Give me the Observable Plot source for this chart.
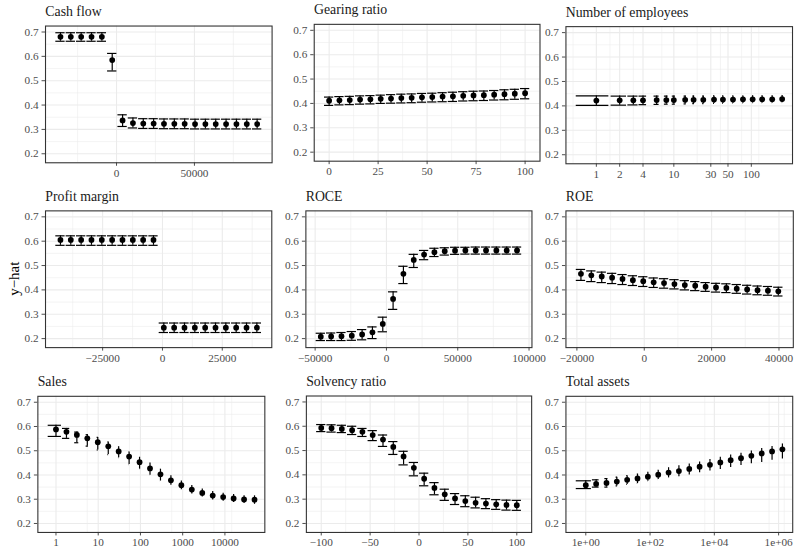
<!DOCTYPE html>
<html><head><meta charset="utf-8">
<script src="https://cdn.jsdelivr.net/npm/d3@7"></script>
<script src="https://cdn.jsdelivr.net/npm/@observablehq/plot@0.6"></script>
<style>
html,body{margin:0;padding:0;background:#fff;overflow:hidden;}
#chart{position:relative;width:795px;height:557px;overflow:hidden;background:#fff;}
#chart svg{position:absolute;left:0;top:0;}
#chart svg text{font-family:'Liberation Serif','Times New Roman',serif !important;}
</style></head><body><div id="chart"></div>
<script>
// ---------- data ----------
const titles = ["Cash flow","Gearing ratio","Number of employees","Profit margin","ROCE","ROE","Sales","Solvency ratio","Total assets"];
const yAxisTitle = "y\u2212hat";
const yTicks = [0.2,0.3,0.4,0.5,0.6,0.7];

const cashX  = [-35970,-29330,-22690,-16040,-9400,-2760,3890,10530,17170,23820,30460,37100,43740,50390,57030,63670,70310,76960,83600,90240];
const cashY  = [0.680,0.680,0.680,0.680,0.680,0.585,0.337,0.326,0.324,0.324,0.323,0.323,0.323,0.322,0.322,0.322,0.322,0.322,0.322,0.322];
const cashLo = [0.662,0.662,0.662,0.662,0.662,0.540,0.312,0.306,0.304,0.304,0.303,0.303,0.303,0.302,0.302,0.302,0.302,0.302,0.302,0.302];
const cashHi = [0.697,0.697,0.697,0.697,0.697,0.612,0.360,0.347,0.344,0.344,0.343,0.343,0.343,0.342,0.342,0.342,0.342,0.342,0.342,0.342];
const cashTicks = [0,50000];

const gearX  = [0,5.26,10.53,15.79,21.05,26.32,31.58,36.84,42.11,47.37,52.63,57.89,63.16,68.42,73.68,78.95,84.21,89.47,94.74,100];
const gearY  = [0.411,0.413,0.414,0.416,0.417,0.419,0.420,0.422,0.423,0.425,0.426,0.428,0.429,0.431,0.433,0.434,0.436,0.438,0.440,0.442];
const gearLo = [0.392,0.394,0.395,0.397,0.398,0.400,0.401,0.402,0.403,0.405,0.406,0.407,0.408,0.410,0.411,0.412,0.414,0.415,0.417,0.419];
const gearHi = [0.426,0.428,0.429,0.431,0.432,0.434,0.436,0.438,0.439,0.441,0.442,0.444,0.446,0.448,0.450,0.451,0.453,0.456,0.458,0.461];
const gearTicks = [0,25,50,75,100];

const empX  = [1,2,3,4,6,8,10,14,18,24,33,43,58,78,104,138,186,250];
const empY  = [0.422,0.423,0.423,0.423,0.424,0.424,0.424,0.425,0.425,0.425,0.426,0.426,0.426,0.427,0.427,0.427,0.427,0.428];
const empLo = [0.402,0.403,0.404,0.405,0.406,0.407,0.407,0.408,0.409,0.409,0.410,0.410,0.411,0.411,0.412,0.412,0.412,0.413];
const empHi = [0.441,0.440,0.440,0.440,0.440,0.440,0.440,0.440,0.440,0.440,0.441,0.441,0.441,0.441,0.442,0.442,0.442,0.443];
const empTicks = [1,2,4,10,30,50,100];

const profX  = [-42630,-38310,-33990,-29670,-25350,-21030,-16710,-12390,-8070,-3750,570,4890,9210,13530,17850,22170,26490,30810,35130,39450];
const profY  = [0.605,0.605,0.605,0.605,0.605,0.605,0.605,0.605,0.605,0.605,0.245,0.245,0.245,0.245,0.245,0.245,0.245,0.245,0.245,0.245];
const profLo = [0.583,0.583,0.583,0.583,0.583,0.583,0.583,0.583,0.583,0.583,0.225,0.225,0.225,0.225,0.225,0.225,0.225,0.225,0.225,0.225];
const profHi = [0.622,0.622,0.622,0.622,0.622,0.622,0.622,0.622,0.622,0.622,0.264,0.264,0.264,0.264,0.264,0.264,0.264,0.264,0.264,0.264];
const profTicks = [-25000,0,25000];

const roceX  = [-46030,-38790,-31540,-24300,-17060,-9820,-2570,4670,11910,19150,26400,33640,40880,48120,55370,62610,69850,77090,84340,91580];
const roceY  = [0.208,0.209,0.210,0.212,0.217,0.226,0.260,0.363,0.466,0.523,0.545,0.555,0.559,0.561,0.562,0.562,0.562,0.562,0.562,0.562];
const roceLo = [0.192,0.192,0.192,0.193,0.195,0.200,0.228,0.320,0.426,0.492,0.524,0.537,0.543,0.546,0.547,0.547,0.547,0.547,0.547,0.547];
const roceHi = [0.222,0.223,0.225,0.229,0.237,0.248,0.288,0.392,0.497,0.546,0.562,0.571,0.573,0.575,0.575,0.576,0.576,0.576,0.576,0.576];
const roceTicks = [-50000,0,50000,100000];

const roeX  = [-18800,-15720,-12630,-9550,-6460,-3380,-300,2790,5870,8960,12040,15130,18210,21300,24380,27460,30550,33630,36720,39800];
const roeY  = [0.466,0.460,0.455,0.450,0.445,0.440,0.436,0.431,0.428,0.424,0.420,0.417,0.413,0.410,0.408,0.405,0.402,0.399,0.397,0.394];
const roeLo = [0.439,0.434,0.430,0.426,0.422,0.418,0.414,0.410,0.407,0.404,0.400,0.397,0.394,0.391,0.389,0.386,0.383,0.380,0.378,0.375];
const roeHi = [0.484,0.478,0.473,0.468,0.463,0.458,0.454,0.449,0.446,0.442,0.438,0.434,0.430,0.427,0.425,0.422,0.419,0.416,0.414,0.411];
const roeTicks = [-20000,0,20000,40000];

const salesX  = [1,1.77,3.12,5.52,9.76,17.3,30.5,53.9,95.3,168.5,297.9,526.6,931,1646,2910,5144,9094,16077,28421,50245];
const salesY  = [0.588,0.578,0.565,0.551,0.535,0.518,0.497,0.476,0.453,0.427,0.403,0.378,0.358,0.340,0.326,0.315,0.309,0.303,0.299,0.298];
const salesLo = [0.559,0.551,0.533,0.519,0.503,0.484,0.471,0.443,0.424,0.399,0.375,0.358,0.339,0.322,0.309,0.297,0.292,0.287,0.282,0.279];
const salesHi = [0.605,0.592,0.577,0.566,0.555,0.536,0.516,0.495,0.473,0.449,0.424,0.397,0.375,0.357,0.342,0.332,0.325,0.320,0.314,0.314];
const salesTicks = [1,10,100,1000,10000];

const solvX  = [-100,-89.47,-78.95,-68.42,-57.89,-47.37,-36.84,-26.32,-15.79,-5.26,5.26,15.79,26.32,36.84,47.37,57.89,68.42,78.95,89.47,100];
const solvY  = [0.593,0.592,0.589,0.584,0.577,0.564,0.545,0.515,0.476,0.429,0.384,0.346,0.320,0.303,0.292,0.285,0.282,0.279,0.276,0.275];
const solvLo = [0.578,0.576,0.574,0.566,0.558,0.541,0.517,0.484,0.441,0.396,0.355,0.318,0.295,0.278,0.269,0.264,0.261,0.258,0.255,0.254];
const solvHi = [0.607,0.606,0.604,0.600,0.591,0.582,0.564,0.537,0.497,0.451,0.407,0.368,0.341,0.323,0.314,0.308,0.302,0.298,0.296,0.295];
const solvTicks = [-100,-50,0,50,100];

const taX  = [1,2.1,4.41,9.25,19.4,40.7,85.5,179.5,376.7,790.7,1660,3483,7311,15346,32211,67608,141906,297852,625173,1312204];
const taY  = [0.358,0.363,0.367,0.373,0.380,0.386,0.393,0.401,0.410,0.416,0.425,0.434,0.442,0.452,0.461,0.469,0.479,0.489,0.497,0.506];
const taLo = [0.344,0.350,0.350,0.355,0.361,0.365,0.374,0.381,0.388,0.393,0.400,0.409,0.416,0.423,0.431,0.439,0.446,0.452,0.461,0.466];
const taHi = [0.376,0.380,0.385,0.391,0.397,0.404,0.411,0.420,0.430,0.438,0.445,0.454,0.464,0.473,0.482,0.490,0.499,0.509,0.518,0.528];
const taTicks = [1,100,10000,1000000];
const taTickLabels = ["1e+00","1e+02","1e+04","1e+06"];

// ---------- panels ----------
const panels = [
  {x: cashX,  y: cashY,  lo: cashLo,  hi: cashHi,  type: "linear", ticks: cashTicks},
  {x: gearX,  y: gearY,  lo: gearLo,  hi: gearHi,  type: "linear", ticks: gearTicks},
  {x: empX,   y: empY,   lo: empLo,   hi: empHi,   type: "log",    ticks: empTicks},
  {x: profX,  y: profY,  lo: profLo,  hi: profHi,  type: "linear", ticks: profTicks},
  {x: roceX,  y: roceY,  lo: roceLo,  hi: roceHi,  type: "linear", ticks: roceTicks},
  {x: roeX,   y: roeY,   lo: roeLo,   hi: roeHi,   type: "linear", ticks: roeTicks},
  {x: salesX, y: salesY, lo: salesLo, hi: salesHi, type: "log",    ticks: salesTicks},
  {x: solvX,  y: solvY,  lo: solvLo,  hi: solvHi,  type: "linear", ticks: solvTicks},
  {x: taX,    y: taY,    lo: taLo,    hi: taHi,    type: "log",    ticks: taTicks, labels: taTickLabels}
];

// layout: panel boxes [left, top, right, bottom] in px
const layout = [
  [45.3, 25.7, 273.3, 163.3],
  [315.7, 24.0, 542.9, 161.7],
  [569.0, 26.3, 797.0, 164.3],
  [45.3, 211.7, 273.0, 349.3],
  [307.3, 211.7, 534.8, 349.3],
  [569.0, 211.7, 797.8, 349.3],
  [37.6, 398.3, 266.0, 535.3],
  [307.8, 398.0, 534.5, 535.3],
  [569.0, 398.3, 797.2, 535.3]
];

const W = 800, H = 557;
const yDomain = [0.163, 0.7245];
const FONT = "'Liberation Serif', 'Times New Roman', serif";
const TICK_SIZE = 3.5, X_PAD = 2.5;
const fmtNum = d => d < 0 ? "\u2212" + Math.abs(d) : String(d);

function minorBreaks(ticks, domain, isLog) {
  const n = ticks.length;
  const ext = [2*ticks[0]-ticks[1], ...ticks, 2*ticks[n-1]-ticks[n-2]];
  const out = [];
  const lo = Math.min(...domain), hi = Math.max(...domain);
  for (let i = 0; i < ext.length-1; i++) {
    const m = (ext[i]+ext[i+1])/2;
    if (isLog && m <= 0) continue;
    if (m >= lo && m <= hi) out.push(m);
  }
  return out;
}

const chart = document.getElementById("chart");

panels.forEach((p, k) => {
  const [L, T, R, B] = layout[k];
  const isLog = p.type === "log";
  const tf = isLog ? Math.log10 : d => d;
  const inv = isLog ? v => Math.pow(10, v) : v => v;
  let md = Infinity;
  for (let i = 1; i < p.x.length; i++) md = Math.min(md, p.x[i]-p.x[i-1]);
  const hw = 0.45*md;
  const a = tf(p.x[0]-hw), b = tf(p.x[p.x.length-1]+hw);
  const pad = 0.05*(b-a);
  const domain = [inv(a-pad), inv(b+pad)];
  const ticks = p.ticks.filter(t => t >= domain[0] && t <= domain[1]);
  const xMinor = minorBreaks(p.ticks, domain, isLog);
  const yMinor = minorBreaks(yTicks, yDomain, false);
  const rows = p.x.map((x, i) => ({x, y: p.y[i], lo: p.lo[i], hi: p.hi[i], x1: x-hw, x2: x+hw}));
  const tickFormat = p.labels ? (d => p.labels[p.ticks.indexOf(d)]) : fmtNum;

  // log axes: Plot thins log tick labels, so labels are drawn as a text mark instead
  const xLabelMarks = isLog
    ? [Plot.text(ticks, {x: d => d, text: tickFormat, frameAnchor: "bottom", lineAnchor: "top",
        dy: TICK_SIZE + X_PAD, fill: "#4D4D4D", fontSize: 11.3})]
    : [];

  const svg = Plot.plot({
    width: W, height: H,
    marginLeft: L, marginRight: W-R, marginTop: T, marginBottom: H-B,
    style: {background: "transparent", overflow: "visible", fontFamily: FONT, fontSize: "11.3px", color: "#4D4D4D"},
    x: {type: isLog ? "log" : "linear", domain, ticks, tickFormat: isLog ? () => "" : tickFormat,
        tickSize: TICK_SIZE, tickPadding: X_PAD, label: null},
    y: {domain: yDomain, ticks: yTicks, tickFormat: d => d.toFixed(1), tickSize: TICK_SIZE, tickPadding: 3.5, label: null},
    marks: [
      Plot.ruleX(xMinor, {stroke: "#EBEBEB", strokeWidth: 0.55}),
      Plot.ruleY(yMinor, {stroke: "#EBEBEB", strokeWidth: 0.55}),
      Plot.ruleX(ticks, {stroke: "#EBEBEB", strokeWidth: 1.1}),
      Plot.ruleY(yTicks, {stroke: "#EBEBEB", strokeWidth: 1.1}),
      Plot.ruleX(rows, {x: "x", y1: "lo", y2: "hi", stroke: "#000", strokeWidth: 1.2}),
      Plot.ruleY(rows, {y: "lo", x1: "x1", x2: "x2", stroke: "#000", strokeWidth: 1.2}),
      Plot.ruleY(rows, {y: "hi", x1: "x1", x2: "x2", stroke: "#000", strokeWidth: 1.2}),
      Plot.dot(rows, {x: "x", y: "y", r: 2.9, fill: "#000", stroke: "none"}),
      ...xLabelMarks,
      Plot.frame({stroke: "#333333", strokeWidth: 1.1})
    ]
  });
  svg.setAttribute("font-family", FONT);
  d3.select(svg).append("text")
    .attr("x", L + 0.3).attr("y", T - 9.5)
    .attr("text-anchor", "start")
    .attr("fill", "#1A1A1A")
    .style("font-size", "13.9px")
    .text(titles[k]);
  if (k === 3) {
    d3.select(svg).append("text")
      .attr("transform", `translate(19.5,${(25.7+535.3)/2}) rotate(-90)`)
      .attr("text-anchor", "middle")
      .attr("fill", "#000")
      .style("font-size", "15px")
      .text(yAxisTitle);
  }
  chart.appendChild(svg);
});
</script>
</body></html>
